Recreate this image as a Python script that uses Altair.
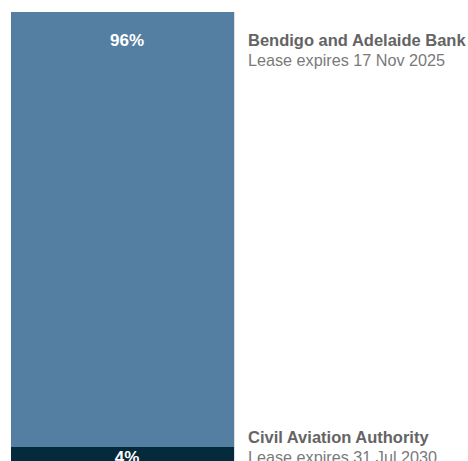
import altair as alt
import pandas as pd

tenants = ["Bendigo and Adelaide Bank", "Civil Aviation Authority"]
shares = [96, 4]
expiries = ["Lease expires 17 Nov 2025", "Lease expires 31 Jul 2030"]
colors = ["#557fa2", "#052a3c"]

starts = [sum(shares[:i]) for i in range(len(shares))]
df = pd.DataFrame({
    "tenant": tenants,
    "share": shares,
    "start": starts,
    "end": [s + v for s, v in zip(starts, shares)],
    "expiry": expiries,
    "pct": [f"{v}%" for v in shares],
    "x0": [0] * len(shares),
    "x1": [1] * len(shares),
})

yscale = alt.Scale(domain=[0, 99.1], reverse=True, nice=False, zero=False)
xscale = alt.Scale(domain=[0, 1], nice=False)

base = alt.Chart(df).transform_calculate(
    pct_y="min((datum.start + datum.end) / 2 + 0.45, datum.start + 6.3)",
    name_y="min(datum.start + 6.3, datum.end - 6.07)",
)

bars = base.mark_bar(stroke=None).encode(
    x=alt.X("x0:Q", scale=xscale, axis=None),
    x2="x1:Q",
    y=alt.Y("start:Q", scale=yscale, axis=None),
    y2="end:Q",
    color=alt.Color("tenant:N", scale=alt.Scale(domain=tenants, range=colors), legend=None),
)

pct = base.mark_text(
    font="Liberation Sans", fontSize=17, fontWeight="bold", color="white",
    baseline="middle", align="center",
).encode(
    x=alt.value(116),
    y=alt.Y("pct_y:Q", scale=yscale),
    text="pct:N",
)

names = base.mark_text(
    font="Liberation Sans", fontSize=16.5, fontWeight="bold", color="#646464",
    baseline="middle", align="left",
).encode(
    x=alt.value(237),
    y=alt.Y("name_y:Q", scale=yscale),
    text="tenant:N",
)

leases = base.mark_text(
    font="Liberation Sans", fontSize=16.2, color="#7a7a7a",
    baseline="middle", align="left", dy=20.5,
).encode(
    x=alt.value(237),
    y=alt.Y("name_y:Q", scale=yscale),
    text="expiry:N",
)

chart = alt.layer(bars, pct, names, leases).properties(
    width=223,
    height=449,
    autosize=alt.AutoSizeParams(type="none"),
    padding={"left": 11, "top": 12, "right": 234, "bottom": 0},
).configure_view(stroke=None).configure(background="white")

chart.save("out.html", embed_options={"renderer": "svg", "actions": False})
